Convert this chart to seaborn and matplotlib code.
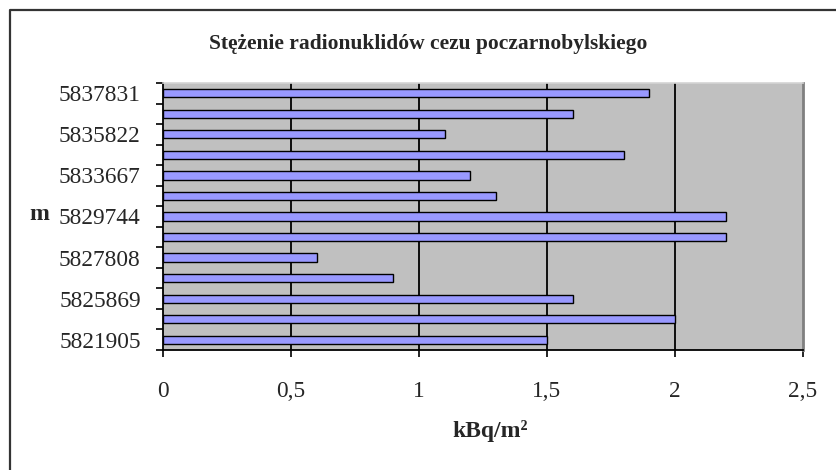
import matplotlib
matplotlib.use("Agg")
import numpy as np
import pandas as pd
import matplotlib.pyplot as plt
import seaborn as sns
from matplotlib.lines import Line2D

# rows listed top to bottom, as drawn; only every other row is labelled
row_labels = ["5837831", "", "5835822", "", "5833667", "", "5829744",
              "", "5827808", "", "5825869", "", "5821905"]
values = [1.9, 1.6, 1.1, 1.8, 1.2, 1.3, 2.2, 2.2, 0.6, 0.9, 1.6, 2.0, 1.5]
x_ticks = [0, 0.5, 1, 1.5, 2, 2.5]
x_tick_labels = ["0", "0,5", "1", "1,5", "2", "2,5"]

title = "Stężenie radionuklidów cezu poczarnobylskiego"
x_title = "kBq/m²"
y_title = "m"

df = pd.DataFrame({"row": [f"r{i}" for i in range(len(values))], "value": values})

sns.set_style("white")
plt.rcParams["font.family"] = ["Liberation Serif", "DejaVu Serif"]

fig = plt.figure(figsize=(8.36, 4.7), dpi=100)
ax = fig.add_axes([163 / 836, 1 - 350 / 470, 640 / 836, 267 / 470])

sns.barplot(data=df, x="value", y="row", orient="h", ax=ax, color="#9999FF",
            saturation=1, width=0.4, edgecolor="black", linewidth=1.0, zorder=3)

ax.set_facecolor("#C0C0C0")
ax.set_xlim(0, 2.5)
ax.set_ylim(len(values) - 0.5, -0.5)
ax.set_xticks(x_ticks)
ax.set_xticklabels(x_tick_labels, fontsize=16.8)
ax.set_yticks(range(len(values)))
ax.set_yticklabels(row_labels, fontsize=16.8)
ax.set_yticks(np.arange(-0.5, len(values), 1), minor=True)
ax.tick_params(axis="y", which="major", length=0, pad=16)
ax.tick_params(axis="y", which="minor", length=5, width=1.2, color="black", left=True)
ax.tick_params(axis="x", which="major", length=5, width=1.2, color="black", bottom=True, pad=17)
ax.set_xlabel("")
ax.set_ylabel("")

for xv in x_ticks[1:-1]:
    ax.axvline(xv, color="black", linewidth=1.3, zorder=1)

ax.spines["left"].set_color("black")
ax.spines["left"].set_linewidth(1.3)
ax.spines["bottom"].set_color("black")
ax.spines["bottom"].set_linewidth(1.3)
ax.spines["top"].set_color("#D4D4D4")
ax.spines["top"].set_linewidth(1.2)
ax.spines["right"].set_color("#808080")
ax.spines["right"].set_linewidth(2.0)

fig.text(428 / 836, 1 - 44 / 470, title, ha="center", va="center",
         fontsize=15.5, fontweight="bold")
fig.text(490 / 836, 1 - 431 / 470, x_title, ha="center", va="center",
         fontsize=17, fontweight="bold")
fig.text(39 / 836, 1 - 215 / 470, y_title, ha="center", va="center",
         fontsize=17, fontweight="bold")

# chart frame (only top and left edges fall inside the picture)
fig.add_artist(Line2D([10 / 836, 10 / 836, 1.0], [0.0, 1 - 10 / 470, 1 - 10 / 470],
                      transform=fig.transFigure, color="#333333", linewidth=1.6))

fig.savefig("out.png", dpi=100)
